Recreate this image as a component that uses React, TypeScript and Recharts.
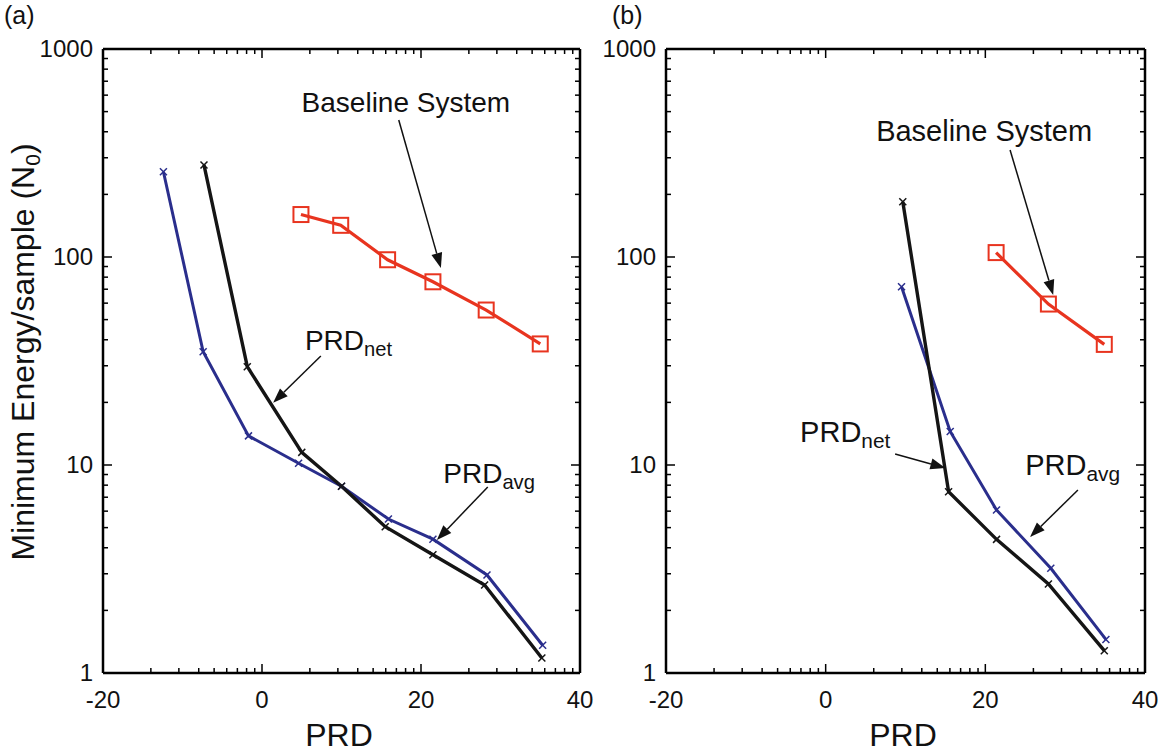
import React from 'react';
import { LineChart, Line, XAxis, YAxis, ReferenceLine, ReferenceDot } from 'recharts';

const FONT = '"Liberation Sans", Arial, Helvetica, sans-serif';

// axis ticks
const X_MAJOR = [-20, 0, 20, 40];
const X_MINOR_K = [2, 3, 4, 5, 6, 7, 8, 9];
const Y_MAJOR = [1, 10, 100, 1000];
const Y_MINOR_K = [2, 3, 4, 5, 6, 7, 8, 9];

// panel (a)
const aAvgX = [-12.4, -7.4, -1.7, 4.6, 10.0, 15.9, 21.5, 28.3, 35.3];
const aAvgY = [257, 35, 13.8, 10.2, 7.9, 5.5, 4.4, 2.96, 1.36];
const aNetX = [-7.3, -1.85, 5.0, 10.0, 15.5, 21.5, 28.0, 35.2];
const aNetY = [277, 29.7, 11.5, 7.9, 5.05, 3.7, 2.65, 1.18];
const aBaseX = [4.9, 9.9, 15.8, 21.5, 28.2, 35.0];
const aBaseY = [160, 142, 97, 76, 55.6, 38.2];

// panel (b)
const bAvgX = [9.5, 15.6, 21.4, 28.2, 35.1];
const bAvgY = [72, 14.5, 6.08, 3.19, 1.45];
const bNetX = [9.66, 15.4, 21.4, 27.9, 34.9];
const bNetY = [184.5, 7.44, 4.39, 2.68, 1.28];
const bBaseX = [21.35, 27.9, 34.9];
const bBaseY = [105, 59.4, 38];

const toPts = (xs: number[], ys: number[]) => xs.map((x, i) => ({ x, y: ys[i] }));

const xTicks: number[] = [];
[-20, 0, 20].forEach((m) => {
  xTicks.push(m);
  X_MINOR_K.forEach((k) => xTicks.push(m + 20 * Math.log10(k)));
});
xTicks.push(40);
const yTicks: number[] = [];
[1, 10, 100].forEach((d) => {
  yTicks.push(d);
  Y_MINOR_K.forEach((k) => yTicks.push(d * k));
});
yTicks.push(1000);

const isMajor = (list: number[], v: number) => list.some((m) => Math.abs(m - v) < 1e-6);

const XTick = (side: 'bottom' | 'top') => (props: any) => {
  const { x, y, payload } = props;
  const v = payload.value;
  const major = isMajor(X_MAJOR, v);
  const len = major ? 9 : 5;
  const dir = side === 'bottom' ? -1 : 1;
  return (
    <g>
      <line x1={x} y1={y} x2={x} y2={y + dir * len} stroke="#000" strokeWidth={1.5} />
      {side === 'bottom' && major && (
        <text x={x} y={y + 35} textAnchor="middle" fontSize={24} fontFamily={FONT} fill="#111">
          {String(v)}
        </text>
      )}
    </g>
  );
};

const YTick = (side: 'left' | 'right') => (props: any) => {
  const { x, y, payload } = props;
  const v = payload.value;
  const major = isMajor(Y_MAJOR, v);
  const len = major ? 9 : 5;
  const dir = side === 'left' ? 1 : -1;
  return (
    <g>
      <line x1={x} y1={y} x2={x + dir * len} y2={y} stroke="#000" strokeWidth={1.5} />
      {side === 'left' && major && (
        <text x={x - 10} y={y + 8} textAnchor="end" fontSize={24} fontFamily={FONT} fill="#111">
          {String(v)}
        </text>
      )}
    </g>
  );
};

const CrossDot = (color: string) => (p: any) => {
  const { cx, cy, index } = p;
  const s = 3.5;
  return (
    <g key={`c-${index}`}>
      <line x1={cx - s} y1={cy - s} x2={cx + s} y2={cy + s} stroke={color} strokeWidth={1.5} />
      <line x1={cx - s} y1={cy + s} x2={cx + s} y2={cy - s} stroke={color} strokeWidth={1.5} />
    </g>
  );
};

const SquareDot = (p: any) => {
  const { cx, cy, index } = p;
  const s = 7.5;
  return (
    <rect key={`s-${index}`} x={cx - s} y={cy - s} width={2 * s} height={2 * s} fill="none" stroke="#e8341f" strokeWidth={2} />
  );
};

const ArrowShape = (p: any) => {
  const { x1, y1, x2, y2 } = p;
  const dx = x2 - x1;
  const dy = y2 - y1;
  const L = Math.sqrt(dx * dx + dy * dy) || 1;
  const ux = dx / L;
  const uy = dy / L;
  const hl = 15;
  const hw = 5.5;
  const bx = x2 - ux * hl;
  const by = y2 - uy * hl;
  const pts = `${x2},${y2} ${bx - uy * hw},${by + ux * hw} ${bx + uy * hw},${by - ux * hw}`;
  return (
    <g>
      <line x1={x1} y1={y1} x2={bx} y2={by} stroke="#111" strokeWidth={1.5} />
      <polygon points={pts} fill="#111" />
    </g>
  );
};

const TextShape = (main: string, sub: string, size: number, anchor: 'start' | 'middle') => (p: any) => (
  <text x={p.cx} y={p.cy} fontSize={size} fontFamily={FONT} fill="#111" textAnchor={anchor}>
    {main}
    {sub && (
      <tspan fontSize={size * 0.72} dy={6}>
        {sub}
      </tspan>
    )}
  </text>
);

type Pt = { x: number; y: number };
type Ann = {
  base: Pt;
  baseArrow: [Pt, Pt];
  net: Pt;
  netArrow: [Pt, Pt];
  avg: Pt;
  avgArrow: [Pt, Pt];
  size: number;
};

// annotation anchors in data coordinates
const annA: Ann = {
  base: { x: 18.1, y: 498 },
  baseArrow: [{ x: 17.2, y: 456 }, { x: 22.5, y: 88.5 }],
  net: { x: 5.4, y: 35.7 },
  netArrow: [{ x: 7.4, y: 33.4 }, { x: 1.4, y: 19.9 }],
  avg: { x: 22.8, y: 8.19 },
  avgArrow: [{ x: 28.4, y: 7.84 }, { x: 22.0, y: 4.36 }],
  size: 28,
};
const annB: Ann = {
  base: { x: 19.85, y: 361 },
  baseArrow: [{ x: 23.1, y: 327 }, { x: 28.5, y: 65.7 }],
  net: { x: -3.2, y: 12.9 },
  netArrow: [{ x: 8.7, y: 11.3 }, { x: 15.0, y: 9.68 }],
  avg: { x: 25.0, y: 8.95 },
  avgArrow: [{ x: 31.6, y: 7.58 }, { x: 25.6, y: 4.51 }],
  size: 29,
};

const BLUE = '#2a2e8c';
const BLACK = '#151515';
const RED = '#e8341f';

type PanelProps = {
  avg: Pt[];
  net: Pt[];
  base: Pt[];
  ann: Ann;
  width: number;
  margin: { top: number; right: number; bottom: number; left: number };
};

const axisLine = { stroke: '#000', strokeWidth: 2.5 };

function Panel({ avg, net, base, ann, width, margin }: PanelProps) {
  return (
    <LineChart width={width} height={752} margin={margin}>
      <XAxis
        xAxisId="b"
        dataKey="x"
        type="number"
        domain={[-20, 40]}
        allowDataOverflow
        ticks={xTicks}
        interval={0}
        tickSize={0}
        tickMargin={0}
        tickLine={false}
        axisLine={axisLine}
        tick={XTick('bottom')}
        height={40}
      />
      <XAxis
        xAxisId="t"
        orientation="top"
        dataKey="x"
        type="number"
        domain={[-20, 40]}
        allowDataOverflow
        ticks={xTicks}
        interval={0}
        tickSize={0}
        tickMargin={0}
        tickLine={false}
        axisLine={axisLine}
        tick={XTick('top')}
        height={1}
      />
      <YAxis
        yAxisId="l"
        dataKey="y"
        type="number"
        scale="log"
        domain={[1, 1000]}
        allowDataOverflow
        ticks={yTicks}
        interval={0}
        tickSize={0}
        tickMargin={0}
        tickLine={false}
        axisLine={axisLine}
        tick={YTick('left')}
        width={60}
      />
      <YAxis
        yAxisId="r"
        orientation="right"
        dataKey="y"
        type="number"
        scale="log"
        domain={[1, 1000]}
        allowDataOverflow
        ticks={yTicks}
        interval={0}
        tickSize={0}
        tickMargin={0}
        tickLine={false}
        axisLine={axisLine}
        tick={YTick('right')}
        width={1}
      />
      <Line
        xAxisId="b"
        yAxisId="l"
        data={base}
        dataKey="y"
        stroke={RED}
        strokeWidth={3.2}
        dot={SquareDot}
        activeDot={false}
        isAnimationActive={false}
      />
      <Line
        xAxisId="b"
        yAxisId="l"
        data={avg}
        dataKey="y"
        stroke={BLUE}
        strokeWidth={3}
        dot={CrossDot(BLUE)}
        activeDot={false}
        isAnimationActive={false}
      />
      <Line
        xAxisId="b"
        yAxisId="l"
        data={net}
        dataKey="y"
        stroke={BLACK}
        strokeWidth={3.4}
        dot={CrossDot(BLACK)}
        activeDot={false}
        isAnimationActive={false}
      />
      <ReferenceLine xAxisId="b" yAxisId="l" segment={ann.baseArrow} ifOverflow="visible" shape={ArrowShape} />
      <ReferenceLine xAxisId="b" yAxisId="l" segment={ann.netArrow} ifOverflow="visible" shape={ArrowShape} />
      <ReferenceLine xAxisId="b" yAxisId="l" segment={ann.avgArrow} ifOverflow="visible" shape={ArrowShape} />
      <ReferenceDot xAxisId="b" yAxisId="l" x={ann.base.x} y={ann.base.y} ifOverflow="visible" shape={TextShape('Baseline System', '', ann.size, 'middle')} />
      <ReferenceDot xAxisId="b" yAxisId="l" x={ann.net.x} y={ann.net.y} ifOverflow="visible" shape={TextShape('PRD', 'net', ann.size, 'start')} />
      <ReferenceDot xAxisId="b" yAxisId="l" x={ann.avg.x} y={ann.avg.y} ifOverflow="visible" shape={TextShape('PRD', 'avg', ann.size, 'start')} />
    </LineChart>
  );
}

export default function App() {
  return (
    <div style={{ position: 'absolute', left: 0, top: 0, width: 1173, height: 752, background: '#fff', overflow: 'hidden' }}>
      <div style={{ position: 'absolute', left: 0, top: 0 }}>
        <Panel
          avg={toPts(aAvgX, aAvgY)}
          net={toPts(aNetX, aNetY)}
          base={toPts(aBaseX, aBaseY)}
          ann={annA}
          width={620}
          margin={{ top: 48, right: 39, bottom: 39, left: 43 }}
        />
      </div>
      <div style={{ position: 'absolute', left: 563, top: 0 }}>
        <Panel
          avg={toPts(bAvgX, bAvgY)}
          net={toPts(bNetX, bNetY)}
          base={toPts(bBaseX, bBaseY)}
          ann={annB}
          width={610}
          margin={{ top: 48, right: 27, bottom: 39, left: 43 }}
        />
      </div>
      <svg width={1173} height={752} style={{ position: 'absolute', left: 0, top: 0, pointerEvents: 'none' }}>
        <text x={4} y={24} fontSize={25} fontFamily={FONT} fill="#111">(a)</text>
        <text x={612} y={24} fontSize={25} fontFamily={FONT} fill="#111">(b)</text>
        <text x={339} y={746} fontSize={32} fontFamily={FONT} fill="#111" textAnchor="middle">PRD</text>
        <text x={903} y={746} fontSize={32} fontFamily={FONT} fill="#111" textAnchor="middle">PRD</text>
        <text
          x={34}
          y={352}
          fontSize={32}
          fontFamily={FONT}
          fill="#111"
          textAnchor="middle"
          transform="rotate(-90 34 352)"
        >
          Minimum Energy/sample (N
          <tspan fontSize={21} dy={6}>0</tspan>
          <tspan dy={-6}>)</tspan>
        </text>
      </svg>
    </div>
  );
}
